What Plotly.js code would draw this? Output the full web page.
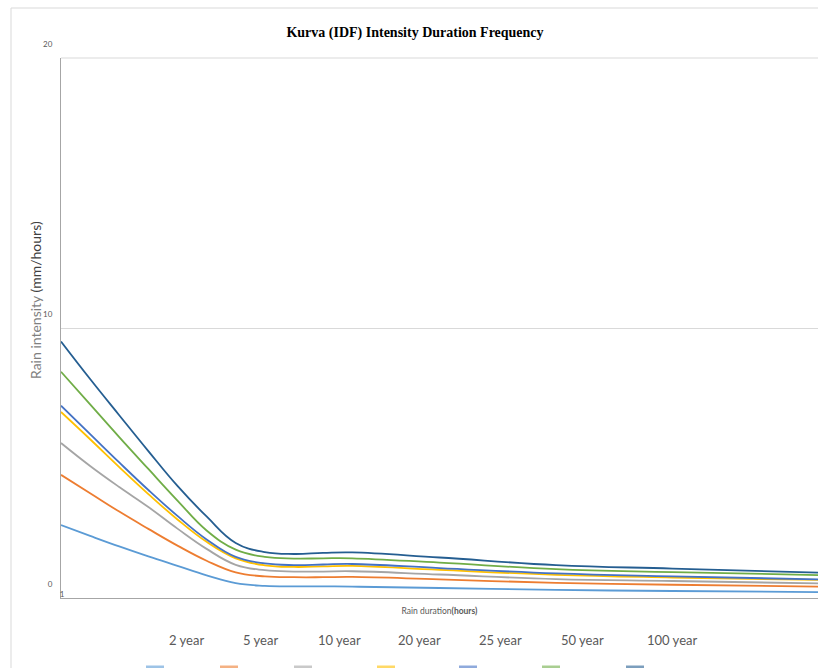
<!DOCTYPE html>
<html>
<head>
<meta charset="utf-8">
<script src="https://cdn.plot.ly/plotly-3.0.1.min.js"></script>
<style>html,body{margin:0;padding:0;background:#fff;}#chart{width:818px;height:668px;}</style>
</head>
<body>
<div id="chart"></div>
<script>
// Rain duration (hours)
const durations = [1, 2, 3, 4, 5, 6, 7, 8, 9, 10, 11, 14, 18, 22, 27];
const seriesNames = ["2 year", "5 year", "10 year", "20 year", "25 year", "50 year", "100 year"];
const seriesColors = ["#5B9BD5", "#ED7D31", "#A5A5A5", "#FFC000", "#4472C4", "#70AD47", "#255E91"];
// Rain intensity (mm/hours)
const y2   = [2.70, 2.30, 1.91, 1.54, 1.19, 0.84, 0.55, 0.45, 0.43, 0.43, 0.42, 0.37, 0.30, 0.26, 0.22];
const y5   = [4.56, 3.88, 3.20, 2.56, 1.94, 1.38, 0.95, 0.80, 0.77, 0.77, 0.78, 0.69, 0.56, 0.49, 0.42];
const y10  = [5.74, 4.89, 4.11, 3.37, 2.57, 1.82, 1.23, 1.03, 0.98, 0.98, 0.99, 0.87, 0.70, 0.63, 0.54];
const y20  = [6.89, 5.88, 4.85, 3.85, 2.91, 2.08, 1.47, 1.21, 1.15, 1.17, 1.19, 1.04, 0.86, 0.76, 0.67];
const y25  = [7.12, 6.07, 5.02, 4.00, 3.04, 2.17, 1.52, 1.28, 1.22, 1.24, 1.26, 1.11, 0.91, 0.80, 0.69];
const y50  = [8.38, 7.17, 5.96, 4.78, 3.61, 2.50, 1.79, 1.52, 1.46, 1.47, 1.47, 1.31, 1.07, 0.96, 0.85];
const y100 = [9.50, 8.11, 6.77, 5.44, 4.15, 3.02, 2.04, 1.70, 1.63, 1.67, 1.69, 1.50, 1.22, 1.09, 0.94];
const yTickVals = [0, 10, 20];
const xTickVals = [1];

const allY = [y2, y5, y10, y20, y25, y50, y100];
const traces = allY.map((ys, i) => ({
  type: 'scatter', mode: 'lines', name: seriesNames[i],
  x: durations, y: ys,
  line: {color: seriesColors[i], width: 1.8, shape: 'spline', smoothing: 1.2},
  showlegend: false, hoverinfo: 'x+y+name'
}));

const W = 818, H = 668, L = 61, R = 0, T = 58, B = 70;
const pw = W - L - R, ph = H - T - B;
const px = x => (x - L) / pw;
const py = y => (H - B - y) / ph;

const legendTextX = [186, 260, 339, 419, 500, 582, 672];
const legendSwatchX = [146, 220, 294, 377, 459, 542, 626];

const annotations = [];
const shapes = [];
seriesNames.forEach((n, i) => {
  annotations.push({
    xref: 'paper', yref: 'paper', x: px(legendTextX[i]), y: py(640),
    text: n, showarrow: false, xanchor: 'center', yanchor: 'middle',
    font: {family: 'Lato, "Open Sans", sans-serif', size: 13, color: '#595959'}
  });
  shapes.push({
    type: 'rect', xref: 'paper', yref: 'paper',
    x0: px(legendSwatchX[i]), x1: px(legendSwatchX[i] + 18),
    y0: py(670), y1: py(665.5),
    fillcolor: seriesColors[i], opacity: 0.6, line: {width: 0}
  });
});
// y axis title
annotations.push({
  xref: 'paper', yref: 'paper', x: px(35), y: py(300),
  text: '<span style="color:#7f7f7f">Rain intensity </span>(mm/hours)', showarrow: false, textangle: -90,
  xanchor: 'center', yanchor: 'middle',
  font: {family: 'Lato, "Open Sans", sans-serif', size: 14, color: '#404040'}
});
// chart border
shapes.push({type: 'line', xref: 'paper', yref: 'paper', x0: px(11), x1: px(818), y0: py(8), y1: py(8), line: {color: '#D9D9D9', width: 1}});
shapes.push({type: 'line', xref: 'paper', yref: 'paper', x0: px(11), x1: px(11), y0: py(8), y1: py(668), line: {color: '#D9D9D9', width: 1}});
// plot area top edge
shapes.push({type: 'line', xref: 'paper', yref: 'paper', x0: 0, x1: 1, y0: 1, y1: 1, line: {color: '#D9D9D9', width: 1}});

const layout = {
  width: W, height: H,
  margin: {l: L, r: R, t: T, b: B},
  paper_bgcolor: '#ffffff', plot_bgcolor: '#ffffff',
  showlegend: false,
  title: {
    text: '<b>Kurva (IDF) Intensity Duration Frequency</b>',
    x: 415 / W, xanchor: 'center', y: 1 - 32 / H, yanchor: 'middle',
    font: {family: '"Liberation Serif", "Times New Roman", serif', size: 14, color: '#000000'}
  },
  xaxis: {
    range: [1, 27], tickvals: xTickVals, ticktext: ['1'],
    ticklabelposition: 'outside', ticks: '',
    ticklabelstandoff: -12, ticklabelshift: 1,
    showgrid: false, zeroline: false,
    showline: true, linecolor: '#A6A6A6', linewidth: 1,
    tickfont: {family: 'Lato, sans-serif', size: 8, color: '#595959'},
    title: {text: 'Rain duration<b>(hours)</b>', standoff: 10,
      font: {family: 'Lato, "Open Sans", sans-serif', size: 8.5, color: '#595959'}}
  },
  yaxis: {
    range: [0, 20], tickvals: yTickVals, ticks: '',
    showgrid: true, gridcolor: '#D9D9D9', gridwidth: 1,
    zeroline: false, showline: true, linecolor: '#A6A6A6', linewidth: 1,
    ticklabelshift: -14, ticklabelstandoff: 6,
    tickfont: {family: 'Lato, sans-serif', size: 8, color: '#595959'}
  },
  annotations: annotations,
  shapes: shapes
};

Plotly.newPlot('chart', traces, layout, {displayModeBar: false, staticPlot: true});
</script>
</body>
</html>
